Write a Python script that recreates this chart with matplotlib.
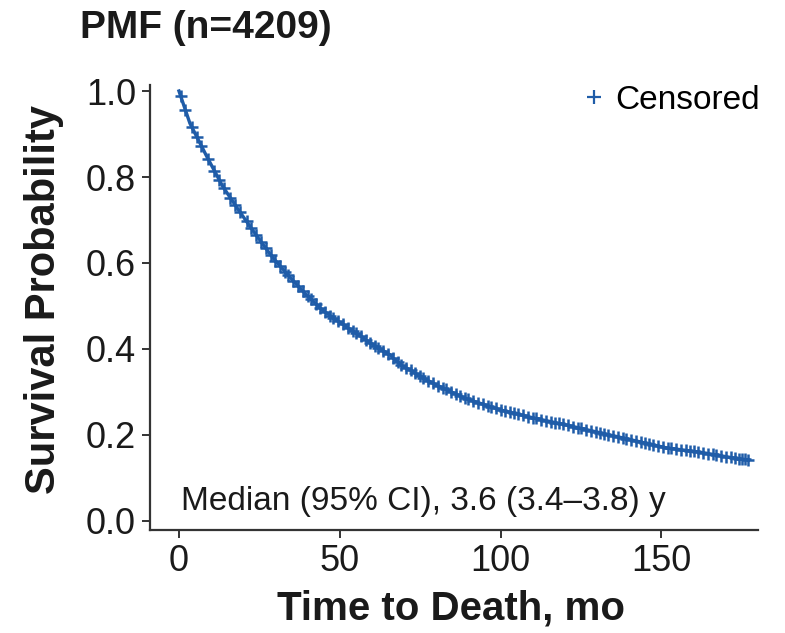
import numpy as np
import matplotlib
matplotlib.use('Agg')
import matplotlib.pyplot as plt
from matplotlib.lines import Line2D

plt.rcParams['font.family'] = ['Liberation Sans', 'DejaVu Sans']

## Data
title = "PMF (n=4209)"
time_mo = [0, 3.4, 8.7, 13.7, 19, 24, 29, 34.5, 39.7, 44.7, 50, 55, 60, 65.5,
           68.6, 79, 89, 100, 110, 120.5, 131, 141, 151.5, 162, 172, 177]
surv = [1.0, 0.925, 0.847, 0.777, 0.718, 0.665, 0.614, 0.567, 0.525, 0.49,
        0.462, 0.437, 0.412, 0.387, 0.365, 0.32, 0.285, 0.258, 0.24, 0.223,
        0.205, 0.188, 0.17, 0.16, 0.147, 0.142]
censor_mo = [0.5, 2, 4, 5.5, 7, 9, 11, 12.5, 14, 16, 17.5, 19, 21, 22.5, 24,
             25.5, 27, 28.5, 30, 31.5, 33, 34, 35.5, 37, 38.5, 40, 41, 42.5, 44,
             45.5, 47, 48, 49.5, 51, 52.5, 54, 55, 56.5, 58, 59.5, 61, 62, 63.5,
             65, 66.5, 68, 69, 70.5, 72, 73.5, 75, 76, 77.5, 79, 80.5, 82, 83,
             84.5, 86, 87.5, 89, 90, 91.5, 93, 94.5, 96, 97, 98.5, 100, 101.5,
             103, 104, 105.5, 107, 108.5, 110, 111, 112.5, 114, 115.5, 117, 118,
             119.5, 121, 122.5, 124, 125, 126.5, 128, 129.5, 131, 132, 133.5,
             135, 136.5, 138, 139, 140.5, 142, 143.5, 145, 146, 147.5, 149,
             150.5, 152, 153, 154.5, 156, 157.5, 159, 160, 161.5, 163, 164.5,
             166, 167, 168.5, 170, 171.5, 173, 174, 175, 176, 177]
xticks = [0, 50, 100, 150]
yticks = [0.0, 0.2, 0.4, 0.6, 0.8, 1.0]
median_txt = "Median (95% CI), 3.6 (3.4\u20133.8) y"

blue = '#1f5ca8'
ink = '#1a1a1a'

fig = plt.figure(figsize=(7.85, 6.33), dpi=100)
ax = fig.add_axes([150/785, 1 - 530/633, 608/785, 445/633])

ax.plot(time_mo, surv, color=blue, lw=2.4, solid_joinstyle='round')
censor_s = np.interp(censor_mo, time_mo, surv)
ax.plot(censor_mo, censor_s, ls='none', marker='+', ms=9, mew=1.8, color=blue)

ax.set_xlim(-9, 180)
ax.set_ylim(-0.021, 1.014)
ax.set_xticks(xticks)
ax.set_xticklabels([str(v) for v in xticks])
ax.set_yticks(yticks)
ax.set_yticklabels(['%.1f' % v for v in yticks])
ax.tick_params(labelsize=26, length=6, width=1.4, color='#333333',
               labelcolor=ink, pad=4)
for s in ['top', 'right']:
    ax.spines[s].set_visible(False)
for s in ['left', 'bottom']:
    ax.spines[s].set_linewidth(1.6)
    ax.spines[s].set_color('#333333')

ax.text(0.5, 0.026, median_txt, fontsize=24, color=ink, va='baseline', ha='left')

handle = Line2D([], [], ls='none', marker='+', ms=10, mew=1.6, color=blue)
ax.legend([handle], ['Censored'], loc='upper right', frameon=False,
          fontsize=24, handlelength=0.6, handletextpad=0.35,
          bbox_to_anchor=(1.025, 1.03), borderaxespad=0)

fig.text(80/785, 1 - 38/633, title, fontsize=28, fontweight='bold',
         color=ink, ha='left', va='baseline')
fig.text(451/785, 1 - 620/633, "Time to Death, mo", fontsize=29,
         fontweight='bold', color=ink, ha='center', va='baseline')
fig.text(44/785, 1 - 300/633, "Survival Probability", fontsize=30,
         fontweight='bold', color=ink, ha='center', va='center', rotation=90)

fig.savefig('out.png', dpi=100)
